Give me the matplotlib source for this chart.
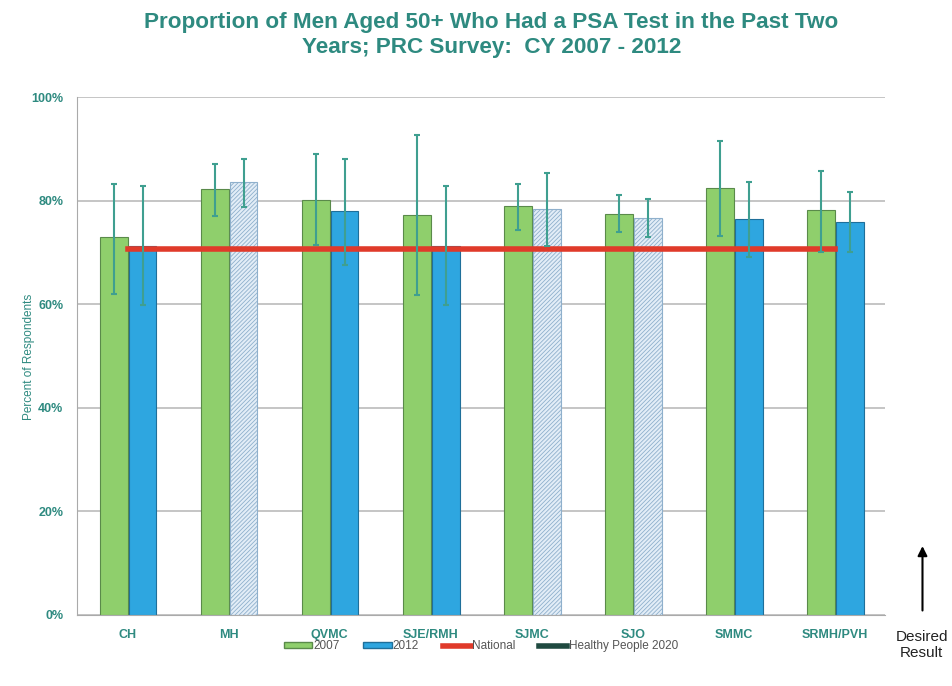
import numpy as np
import matplotlib.pyplot as plt
from matplotlib.patches import Patch
from matplotlib.lines import Line2D

categories = ['CH', 'MH', 'QVMC', 'SJE/RMH', 'SJMC', 'SJO', 'SMMC', 'SRMH/PVH']
v2007 = [73.0, 82.2, 80.2, 77.2, 79.0, 77.5, 82.4, 78.2]
lo2007 = [62.0, 77.0, 71.4, 61.8, 74.3, 73.9, 73.1, 70.0]
hi2007 = [83.2, 87.0, 89.0, 92.7, 83.2, 81.0, 91.5, 85.7]
v2012 = [71.2, 83.5, 77.9, 71.3, 78.3, 76.6, 76.4, 75.8]
lo2012 = [59.8, 78.7, 67.6, 59.8, 71.2, 73.0, 69.2, 70.0]
hi2012 = [82.8, 88.1, 88.0, 82.8, 85.3, 80.3, 83.5, 81.7]
hatched2012 = [False, True, False, False, True, True, False, False]
national = [70.7] * 8

teal = '#2e8a80'
green = '#8fcf6c'
blue = '#2ea6e0'
errc = '#3f9f90'
fam = ['Liberation Sans', 'DejaVu Sans']

plt.rcParams['font.family'] = fam
plt.rcParams['hatch.linewidth'] = 0.6

fig = plt.figure(figsize=(9.52, 6.86), dpi=100)
ax = fig.add_axes([0.081, 0.1035, 0.849, 0.7551])

x = np.arange(len(categories))
w = 0.275

ax.bar(x - w / 2, v2007, w, color=green, edgecolor='#5a8a4a', linewidth=0.8, zorder=2)
for i in range(len(categories)):
    if hatched2012[i]:
        ax.bar(x[i] + w / 2 + 0.01, v2012[i], w, color='#e2edf7', edgecolor='#8fb0cc',
               hatch='////////', linewidth=0.8, zorder=2)
    else:
        ax.bar(x[i] + w / 2 + 0.01, v2012[i], w, color=blue, edgecolor='#1f6f9a',
               linewidth=0.8, zorder=2)

ax.errorbar(x - w / 2, v2007,
            yerr=[np.array(v2007) - np.array(lo2007), np.array(hi2007) - np.array(v2007)],
            fmt='none', ecolor=errc, elinewidth=1.5, capsize=2.5, capthick=1.5, zorder=4)
ax.errorbar(x + w / 2 + 0.01, v2012,
            yerr=[np.array(v2012) - np.array(lo2012), np.array(hi2012) - np.array(v2012)],
            fmt='none', ecolor=errc, elinewidth=1.5, capsize=2.5, capthick=1.5, zorder=4)

ax.plot(x, national, color='#e03a2a', linewidth=4, zorder=3)

ax.set_xlim(-0.5, len(categories) - 0.5)
ax.set_ylim(0, 100)
ax.set_yticks([0, 20, 40, 60, 80, 100])
ax.set_yticklabels(['0%', '20%', '40%', '60%', '80%', '100%'])
ax.set_xticks(x)
ax.set_xticklabels(categories)
ax.tick_params(axis='both', colors='#999999', labelcolor=teal, labelsize=9, length=0, pad=10)
for lab in ax.get_xticklabels() + ax.get_yticklabels():
    lab.set_fontweight('bold')
ax.yaxis.grid(True, color='#bbbbbb', linewidth=1.2, zorder=0)
ax.set_axisbelow(True)
for s in ['top', 'right']:
    ax.spines[s].set_visible(False)
ax.spines['left'].set_color('#aaaaaa')
ax.spines['bottom'].set_color('#aaaaaa')
fig.text(0.03, 0.48, 'Percent of Respondents', color=teal, fontsize=8.5,
         rotation=90, ha='center', va='center')

fig.suptitle('Proportion of Men Aged 50+ Who Had a PSA Test in the Past Two\nYears; PRC Survey:  CY 2007 - 2012',
             x=0.516, y=0.982, color=teal, fontsize=16.2, fontweight='bold', linespacing=1.25)

handles = [Patch(facecolor=green, edgecolor='#5a8a4a'),
           Patch(facecolor=blue, edgecolor='#1f6f9a'),
           Line2D([], [], color='#e03a2a', linewidth=4),
           Line2D([], [], color='#1f4a40', linewidth=4)]
fig.legend(handles, ['2007', '2012', 'National', 'Healthy People 2020'],
           loc='center', bbox_to_anchor=(0.505, 0.058), ncol=4, frameon=False,
           handlelength=2.4, handleheight=0.45, handletextpad=0.1, columnspacing=2.0,
           prop={'size': 8.5}, labelcolor='#555555')

ax.annotate('', xy=(0.969, 0.208), xytext=(0.969, 0.106), xycoords='figure fraction',
            arrowprops=dict(arrowstyle='-|>', color='black', lw=1.5, mutation_scale=14))
fig.text(0.968, 0.06, 'Desired\nResult', ha='center', va='center', fontsize=11,
         color='#222222')

fig.savefig('out.png', dpi=100)
